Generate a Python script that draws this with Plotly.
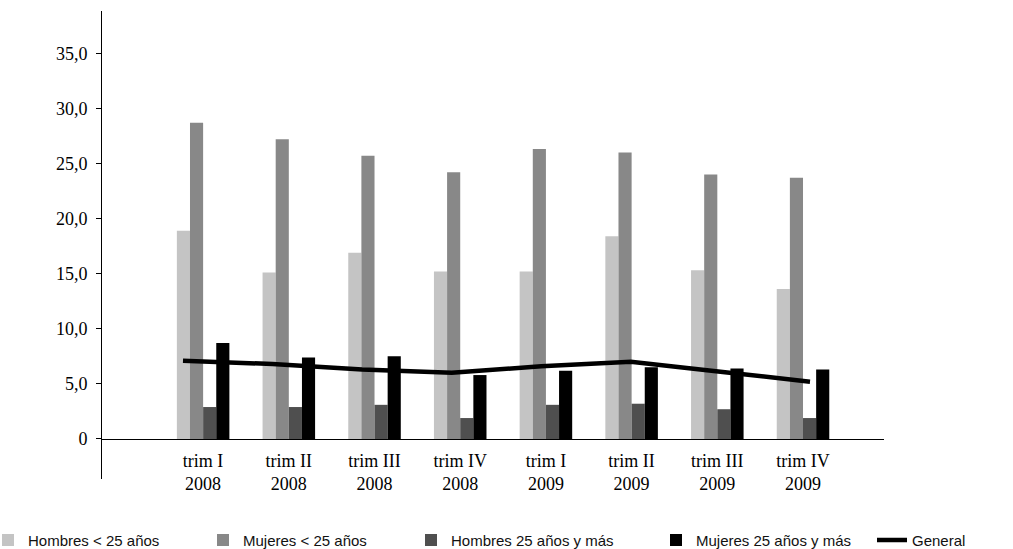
import plotly.graph_objects as go

# Quarters on the category axis
categories = ["trim I<br>2008", "trim II<br>2008", "trim III<br>2008", "trim IV<br>2008",
              "trim I<br>2009", "trim II<br>2009", "trim III<br>2009", "trim IV<br>2009"]

# Unemployment rates (%) by group
hombres_menos25 = [18.9, 15.1, 16.9, 15.2, 15.2, 18.4, 15.3, 13.6]
mujeres_menos25 = [28.7, 27.2, 25.7, 24.2, 26.3, 26.0, 24.0, 23.7]
hombres_25mas = [2.9, 2.9, 3.1, 1.9, 3.1, 3.2, 2.7, 1.9]
mujeres_25mas = [8.7, 7.4, 7.5, 5.8, 6.2, 6.5, 6.4, 6.3]
general = [7.1, 6.8, 6.3, 6.0, 6.6, 7.0, 6.1, 5.2]

# Value-axis ticks
y_tickvals = [0, 5, 10, 15, 20, 25, 30, 35]
y_ticktext = ["0", "5,0", "10,0", "15,0", "20,0", "25,0", "30,0", "35,0"]

y_min, y_max = -3.63, 38.83
W, H = 1013, 549
serif = "Liberation Serif, Times New Roman, serif"
sans = "Liberation Sans, Arial, sans-serif"

fig = go.Figure()
series = [
    ("Hombres < 25 años", hombres_menos25, "#c4c4c4"),
    ("Mujeres < 25 años", mujeres_menos25, "#888888"),
    ("Hombres 25 años y más", hombres_25mas, "#4f4f4f"),
    ("Mujeres 25 años y más", mujeres_25mas, "#000000"),
]
legend_ids = ["legend", "legend2", "legend3", "legend4", "legend5"]
for (name, vals, color), lg in zip(series, legend_ids):
    fig.add_trace(go.Bar(x=categories, y=vals, name=name, legend=lg,
                         marker=dict(color=color, line=dict(width=0))))

fig.add_trace(go.Scatter(x=categories, y=general, name="General", mode="lines",
                         legend=legend_ids[4],
                         line=dict(color="#000000", width=4.5), xaxis="x2"))

# one single-entry legend per series, laid out in a row along the bottom
legend_left_px = [0, 203, 411, 656, 872]
legend_indent = [-12, 0, 0, 0, 0]
legend_style = dict(orientation="h", xref="container", yref="container",
                    y=0.016, xanchor="left", yanchor="middle",
                    bgcolor="rgba(0,0,0,0)",
                    font=dict(family=sans, size=15, color="#111111"))
legends = {lg: dict(legend_style, x=px / W, indentation=ind)
           for lg, px, ind in zip(legend_ids, legend_left_px, legend_indent)}

fig.update_layout(
    width=W, height=H,
    margin=dict(l=102, r=129, t=11, b=70, autoexpand=False),
    paper_bgcolor="white", plot_bgcolor="white",
    barmode="group", bargap=0.387, bargroupgap=0,
    showlegend=True,
    **legends,
    xaxis=dict(type="category", range=[-1.18, 7.945], anchor="free",
               position=-y_min / (y_max - y_min),
               showline=True, linecolor="black", linewidth=1,
               ticks="", showgrid=False, zeroline=False,
               ticklabelstandoff=5,
               tickfont=dict(family=serif, size=18, color="black")),
    xaxis2=dict(type="category", range=[-0.904, 7.826], overlaying="x",
                anchor="y", visible=False),
    yaxis=dict(range=[y_min, y_max], tickvals=y_tickvals, ticktext=y_ticktext,
               showline=True, linecolor="black", linewidth=1,
               ticks="outside", ticklen=5, tickcolor="black",
               ticklabelstandoff=5,
               showgrid=False, zeroline=False,
               tickfont=dict(family=serif, size=18, color="black")),
)

fig.write_html("out.html")
